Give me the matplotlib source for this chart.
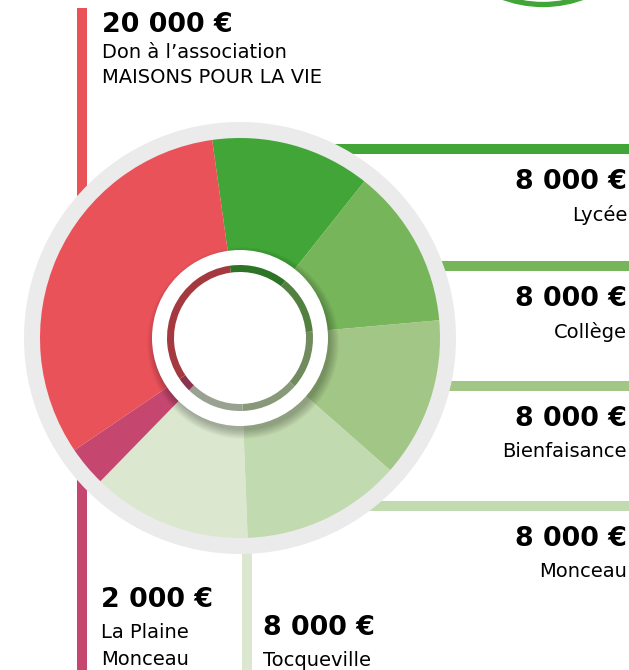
import matplotlib.pyplot as plt
from matplotlib.patches import Circle, Rectangle
from matplotlib.colors import to_rgb

# Données (montants des dons)
postes = ["Lycée", "Collège", "Bienfaisance", "Monceau", "Tocqueville",
          "La Plaine Monceau", "MAISONS POUR LA VIE"]
montants = [8000, 8000, 8000, 8000, 8000, 2000, 20000]
couleurs = ["#41A637", "#77B55B", "#A2C686", "#C2DAAF", "#DBE8CF",
            "#C5476F", "#EA525A"]
libelles = [["Lycée"], ["Collège"], ["Bienfaisance"], ["Monceau"], ["Tocqueville"],
            ["La Plaine", "Monceau"], ["Don à l’association", "MAISONS POUR LA VIE"]]


def euros(v):
    return f"{v:,}".replace(",", " ") + " €"


W, H = 629, 670
fig = plt.figure(figsize=(W / 100, H / 100), dpi=100)
ax = fig.add_axes([0, 0, 1, 1])

cx, cy = 240, H - 338  # centre du camembert (pixels, y vers le haut)

# Traits de liaison (derrière le cercle)
ax.add_patch(Rectangle((77, cy), 10, H - 8 - cy, color=couleurs[6], zorder=1, lw=0))
ax.add_patch(Rectangle((77, 0), 10, cy, color=couleurs[5], zorder=1, lw=0))
ax.add_patch(Rectangle((242, 0), 10, cy, color=couleurs[4], zorder=1, lw=0))
for yl, c in zip([144, 261, 381, 501], couleurs[:4]):
    ax.add_patch(Rectangle((cx, H - yl - 10), W - cx, 10, color=c, zorder=1, lw=0))

# Anneau vert en haut à droite
ax.add_patch(Circle((543, H + 110.5), 115, fill=False, ec=couleurs[0], lw=3.8, zorder=1))

# Fond gris
ax.add_patch(Circle((cx, cy), 216, color="#EBEBEB", zorder=2, lw=0))

# Camembert
ax.pie(montants, colors=couleurs, startangle=98, counterclock=False,
       center=(cx, cy), radius=200, wedgeprops=dict(linewidth=0, zorder=3))

# Ombre légère du disque central
for i in range(9):
    ax.add_patch(Circle((cx + 3, cy - 5), 87 + i * 1.1, color="black",
                        alpha=0.03, lw=0, zorder=4))
ax.add_patch(Circle((cx, cy), 88, color="white", zorder=5, lw=0))

# Anneau intérieur (couleurs assombries)
sombres = [tuple(0.7 * k for k in to_rgb(c)) for c in couleurs]
ax.pie(montants, colors=sombres, startangle=98, counterclock=False,
       center=(cx, cy), radius=73,
       wedgeprops=dict(linewidth=0, width=7, zorder=6))

# Textes
gras = dict(fontsize=19.4, fontweight="bold", color="black", zorder=8)
norm = dict(fontsize=14, color="black", zorder=8)

# côté droit
for i, (yb, yl) in enumerate(zip([189, 306, 426, 546], [221, 338, 457, 577])):
    ax.text(515, H - yb, euros(montants[i]), ha="left", va="baseline", **gras)
    ax.text(627, H - yl, libelles[i][0], ha="right", va="baseline", **norm)

# Tocqueville
ax.text(263, H - 635, euros(montants[4]), ha="left", va="baseline", **gras)
ax.text(263, H - 666, libelles[4][0], ha="left", va="baseline", **norm)

# La Plaine Monceau
ax.text(101, H - 607, euros(montants[5]), ha="left", va="baseline", **gras)
for t, yb in zip(libelles[5], [638, 665]):
    ax.text(101, H - yb, t, ha="left", va="baseline", **norm)

# Maisons pour la vie
ax.text(102, H - 32, euros(montants[6]), ha="left", va="baseline", **gras)
for t, yb in zip(libelles[6], [58, 83]):
    ax.text(102, H - yb, t, ha="left", va="baseline", **norm)

ax.set_xlim(0, W)
ax.set_ylim(0, H)
ax.set_aspect("equal")
ax.axis("off")

fig.savefig("out.png", dpi=100)
